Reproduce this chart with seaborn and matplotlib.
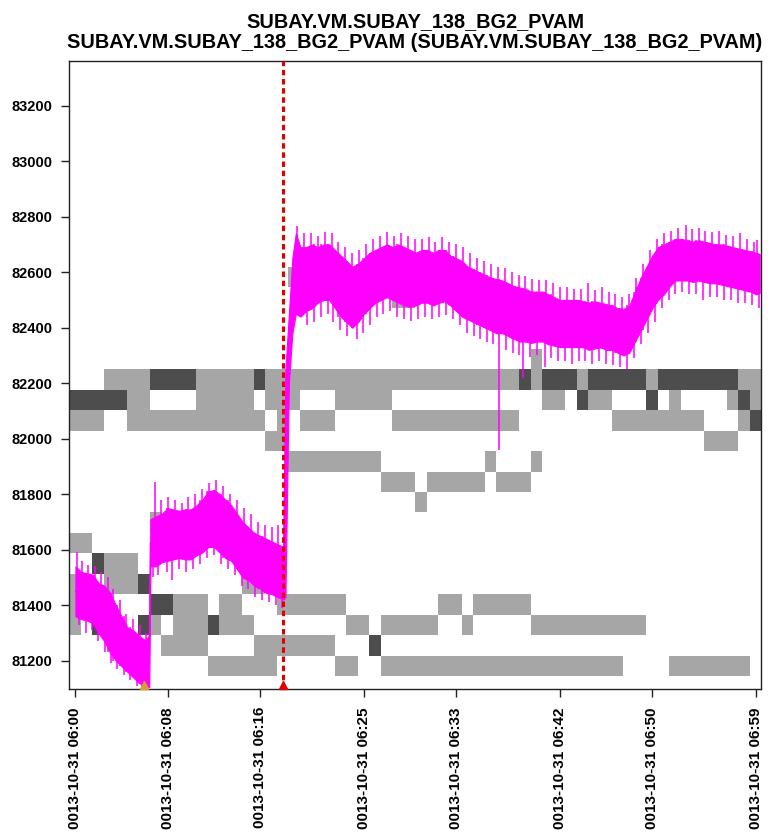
import numpy as np
import pandas as pd
import matplotlib
matplotlib.use("Agg")
import matplotlib.pyplot as plt
from matplotlib.colors import ListedColormap
import seaborn as sns

TITLE = ("SUBAY.VM.SUBAY_138_BG2_PVAM\n"
         "SUBAY.VM.SUBAY_138_BG2_PVAM (SUBAY.VM.SUBAY_138_BG2_PVAM)")

# x axis is minutes after 06:00
tick_min = [0, 8, 16, 25, 33, 42, 50, 59]
tick_labels = ["0013-10-31 06:00", "0013-10-31 06:08", "0013-10-31 06:16",
               "0013-10-31 06:25", "0013-10-31 06:33", "0013-10-31 06:42",
               "0013-10-31 06:50", "0013-10-31 06:59"]
y_ticks = [81200, 81400, 81600, 81800, 82000, 82200, 82400, 82600, 82800, 83000, 83200]

# --- magenta signal, read as a low/high envelope ---
band_t = [0.0, 0.5, 1.0, 1.5, 2.0, 2.5, 3.0, 3.5, 4.0, 4.5, 5.0, 5.5, 6.0, 6.4,
          6.5, 7.0, 7.5, 8.0, 8.5, 9.0, 9.5, 10.0, 10.5, 11.0, 11.5, 12.0, 12.5,
          13.0, 13.5, 14.0, 14.5, 15.0, 15.5, 16.0, 16.5, 17.0, 17.5, 18.0,
          18.2, 18.5, 18.8, 19.1, 19.5,
          20.0, 20.5, 21.0, 21.5, 22.0, 22.5, 23.0, 23.5, 24.0, 24.5, 25.0, 25.5,
          26.0, 26.5, 27.0, 27.5, 28.0, 28.5, 29.0, 29.5, 30.0, 30.5, 31.0, 31.5,
          32.0, 32.5, 33.0, 33.5, 34.0, 34.5, 35.0, 35.5, 36.0, 36.5, 37.0, 37.5,
          38.0, 38.5, 39.0, 39.5, 40.0, 40.5, 41.0, 41.5, 42.0, 42.5, 43.0, 43.5,
          44.0, 44.5, 45.0, 45.5, 46.0, 46.5, 47.0, 47.5, 48.0, 48.5, 49.0, 49.5,
          50.0, 50.5, 51.0, 51.5, 52.0, 52.5, 53.0, 53.5, 54.0, 54.5, 55.0, 55.5,
          56.0, 56.5, 57.0, 57.5, 58.0, 58.5, 59.0, 59.3]
band_lo = [81360, 81350, 81345, 81335, 81300, 81270, 81230, 81200, 81180, 81160, 81140, 81120, 81110, 81105,
           81540, 81540, 81555, 81560, 81565, 81570, 81565, 81565, 81580, 81590, 81610, 81610, 81590,
           81570, 81560, 81530, 81500, 81490, 81470, 81460, 81445, 81440, 81430, 81420,
           81430, 82200, 82380, 82450, 82440,
           82460, 82470, 82490, 82500, 82500, 82470, 82440, 82420, 82400, 82420, 82450, 82470,
           82490, 82500, 82510, 82500, 82490, 82480, 82475, 82480, 82490, 82490, 82480, 82490,
           82495, 82480, 82460, 82440, 82430, 82420, 82410, 82400, 82390, 82380, 82380, 82370,
           82360, 82350, 82350, 82345, 82350, 82350, 82340, 82335, 82330, 82330, 82330, 82330,
           82330, 82320, 82325, 82330, 82320, 82320, 82310, 82300, 82310, 82350, 82390, 82430,
           82470, 82500, 82520, 82550, 82570, 82570, 82570, 82565, 82570, 82565, 82560, 82560,
           82555, 82550, 82545, 82540, 82535, 82530, 82520, 82525]
band_hi = [81540, 81520, 81515, 81510, 81480, 81470, 81445, 81400, 81360, 81320, 81310, 81290, 81275, 81290,
           81710, 81720, 81730, 81750, 81745, 81740, 81745, 81745, 81760, 81780, 81810, 81815, 81800,
           81780, 81760, 81730, 81700, 81680, 81660, 81650, 81640, 81630, 81620, 81610,
           82250, 82450, 82650, 82740, 82690,
           82690, 82700, 82690, 82700, 82700, 82680, 82660, 82640, 82620, 82630, 82650, 82670,
           82680, 82690, 82700, 82690, 82700, 82690, 82680, 82670, 82680, 82680, 82670, 82680,
           82680, 82660, 82650, 82640, 82620, 82610, 82600, 82590, 82580, 82575, 82570, 82560,
           82550, 82545, 82540, 82530, 82530, 82530, 82520, 82510, 82500, 82500, 82500, 82500,
           82495, 82490, 82495, 82490, 82485, 82480, 82470, 82465, 82480, 82530, 82580, 82620,
           82660, 82690, 82700, 82710, 82720, 82720, 82715, 82710, 82715, 82710, 82705, 82700,
           82700, 82695, 82690, 82685, 82680, 82675, 82670, 82665]

# noise spikes above the band (time, tip value)
up_t = [0.1, 0.6, 1.1, 1.7, 2.2, 2.8, 3.3, 3.9, 4.4, 5.0, 5.6, 6.1,
        6.9, 7.4, 8.0, 8.6, 9.2, 9.8, 10.4, 11.0, 11.6, 12.2, 12.8, 13.4, 14.0, 14.6,
        15.2, 15.8, 16.4, 17.0, 17.6,
        19.2, 19.8, 20.4, 21.0, 21.6, 22.2, 22.8, 23.4, 24.0, 24.6, 25.2, 25.8, 26.4,
        27.0, 27.6, 28.2, 28.8, 29.4, 30.0, 30.6, 31.2, 31.8, 32.4, 33.0, 33.6, 34.2,
        34.8, 35.4, 36.0, 36.6, 37.2, 37.8, 38.4, 39.0, 39.6, 40.2, 40.8, 41.4, 42.0,
        42.6, 43.2, 43.8, 44.4, 45.0, 45.6, 46.2, 46.8, 47.4, 48.0, 48.6, 49.2, 49.8,
        50.4, 51.0, 51.6, 52.2, 52.9, 53.4, 54.0, 54.6, 55.2, 55.8, 56.4, 57.0, 57.6,
        58.2, 58.8, 59.1]
up_v = [81590, 81560, 81545, 81540, 81520, 81500, 81460, 81420, 81370, 81350, 81330, 81300,
        81845, 81780, 81790, 81780, 81770, 81790, 81800, 81820, 81840, 81850, 81830, 81800, 81780, 81750,
        81730, 81700, 81690, 81680, 81690,
        82765, 82740, 82740, 82730, 82745, 82740, 82710, 82690, 82670, 82680, 82700, 82720, 82730,
        82745, 82730, 82740, 82730, 82720, 82720, 82725, 82710, 82725, 82710, 82700, 82690, 82670,
        82650, 82640, 82630, 82620, 82615, 82600, 82590, 82585, 82575, 82570, 82570, 82560, 82545,
        82545, 82540, 82540, 82560, 82535, 82545, 82530, 82520, 82510, 82520, 82580, 82630, 82680,
        82720, 82740, 82750, 82760, 82770, 82755, 82760, 82750, 82745, 82750, 82735, 82730, 82740,
        82720, 82710, 82716]
# noise spikes below the band (time, tip value)
dn_t = [0.3, 0.9, 1.4, 2.0, 2.6, 3.1, 3.6, 4.2, 4.7, 5.3, 5.8,
        6.7, 7.2, 7.9, 8.4, 9.0, 9.6, 10.2, 10.8, 11.4, 12.0, 12.6, 13.2, 13.8, 14.4,
        15.0, 15.6, 16.2, 16.8, 17.4, 17.9,
        20.1, 20.7, 21.3, 21.9, 22.3, 22.9, 23.5, 24.4, 24.9, 25.5, 26.1, 26.7, 27.3,
        27.9, 28.5, 29.1, 29.7, 30.3, 30.9, 31.5, 32.1, 32.7, 33.3, 33.9, 34.5, 35.1,
        35.7, 36.2, 36.7, 37.3, 37.9, 38.4, 38.8, 39.4, 40.0, 40.7, 41.2, 41.8, 42.4,
        43.0, 43.6, 44.2, 44.8, 45.4, 46.0, 46.6, 47.2, 47.8, 48.4, 49.0, 49.6, 50.2,
        50.8, 51.4, 52.0, 52.6, 53.2, 53.8, 54.4, 55.0, 55.6, 56.2, 56.8, 57.4, 58.0,
        58.6, 59.2]
dn_v = [81330, 81300, 81310, 81270, 81230, 81190, 81170, 81150, 81130, 81110, 81105,
        81500, 81510, 81520, 81490, 81530, 81520, 81530, 81550, 81570, 81580, 81550, 81530, 81510, 81470,
        81460, 81430, 81420, 81410, 81400, 81390,
        82410, 82420, 82440, 82450, 82420, 82390, 82370, 82360, 82380, 82410, 82440, 82450, 82460,
        82440, 82430, 82425, 82430, 82440, 82430, 82440, 82445, 82430, 82410, 82380, 82370, 82360,
        82350, 82340, 81960, 82320, 82310, 82300, 82220, 82295, 82300, 82260, 82290, 82280, 82280,
        82270, 82280, 82280, 82270, 82280, 82270, 82265, 82260, 82250, 82290, 82340, 82380, 82420,
        82470, 82500, 82520, 82530, 82520, 82520, 82500, 82510, 82510, 82500, 82500, 82490, 82490,
        82480, 82470]

event_t = 18.0     # red dashed line / red triangle
marker_t = 5.95    # orange triangle

# --- gray background cells: one-minute columns, rows of 73.7 units ---
cell_x0 = -0.54
cell_y0 = 81071
cell_h = 73.7
n_cols, n_rows = 60, 22
# row index -> runs of (first col, last col, shade) ; l = light, d = dark
cell_runs = {
    21: [(51, 51, "l")],
    20: [(19, 19, "l"), (27, 27, "l"), (50, 50, "l")],
    19: [(24, 24, "l"), (28, 29, "l"), (35, 35, "l"), (38, 38, "l"), (49, 49, "l")],
    18: [(38, 48, "l")],
    17: [(46, 47, "l")],
    16: [(40, 40, "l")],
    15: [(3, 6, "l"), (7, 10, "d"), (11, 15, "l"), (16, 16, "d"), (17, 38, "l"), (39, 39, "d"),
         (40, 40, "l"), (41, 43, "d"), (44, 44, "l"), (45, 49, "d"), (50, 50, "l"), (51, 57, "d"),
         (58, 59, "l")],
    14: [(0, 4, "d"), (5, 6, "l"), (11, 15, "l"), (17, 19, "l"), (23, 27, "l"), (41, 42, "l"),
         (44, 44, "d"), (45, 46, "l"), (50, 50, "d"), (52, 52, "l"), (57, 57, "l"), (58, 58, "d"),
         (59, 59, "l")],
    13: [(0, 2, "l"), (5, 16, "l"), (18, 18, "l"), (20, 22, "l"), (28, 38, "l"), (47, 54, "l"),
         (58, 58, "l"), (59, 59, "d")],
    12: [(17, 18, "l"), (55, 57, "l")],
    11: [(19, 26, "l"), (36, 36, "l"), (40, 40, "l")],
    10: [(27, 29, "l"), (31, 35, "l"), (37, 39, "l")],
    9: [(30, 30, "l")],
    8: [(7, 7, "l")],
    7: [(0, 1, "l")],
    6: [(2, 2, "d"), (3, 5, "l")],
    5: [(0, 0, "l"), (3, 5, "l"), (6, 6, "d"), (15, 16, "l")],
    4: [(0, 0, "l"), (7, 8, "d"), (9, 11, "l"), (13, 14, "l"), (18, 23, "l"), (32, 33, "l"),
        (35, 39, "l")],
    3: [(0, 0, "l"), (2, 2, "d"), (6, 6, "d"), (7, 7, "l"), (9, 11, "l"), (12, 12, "d"),
        (13, 15, "l"), (24, 25, "l"), (27, 31, "l"), (34, 34, "l"), (40, 49, "l")],
    2: [(8, 11, "l"), (16, 22, "l"), (26, 26, "d")],
    1: [(12, 17, "l"), (23, 24, "l"), (27, 47, "l"), (52, 58, "l")],
}

LIGHT = "#A6A6A6"
DARK = "#4D4D4D"
MAGENTA = "#FF00FF"
RED = "#E00000"
ORANGE = "#D9A030"

sns.set_theme(style="white")
plt.rcParams["font.family"] = ["Liberation Sans", "DejaVu Sans"]
plt.rcParams["font.weight"] = "bold"
plt.rcParams["text.color"] = "black"
plt.rcParams["xtick.labelcolor"] = "black"
plt.rcParams["ytick.labelcolor"] = "black"

fig = plt.figure(figsize=(7.78, 8.33), dpi=100)
ax = fig.add_axes([69.3 / 778, 1 - 689 / 833, (760.7 - 69.3) / 778, (689 - 60.7) / 833])

# grid of cells
grid = np.full((n_rows, n_cols), np.nan)
for r, runs in cell_runs.items():
    for c0, c1, shade in runs:
        grid[r, c0:c1 + 1] = 1 if shade == "l" else 2
x_edges = cell_x0 + np.arange(n_cols + 1)
y_edges = cell_y0 + cell_h * np.arange(n_rows + 1)
ax.pcolormesh(x_edges, y_edges, np.ma.masked_invalid(grid),
              cmap=ListedColormap([LIGHT, DARK]), vmin=0.5, vmax=2.5,
              shading="flat", zorder=1)

# signal band (min/max of the envelope points at each time)
df = pd.DataFrame({"t": band_t + band_t, "v": band_lo + band_hi})
sns.lineplot(data=df, x="t", y="v", estimator="mean",
             errorbar=lambda s: (s.min(), s.max()),
             color=MAGENTA, linewidth=1.0,
             err_kws={"alpha": 1, "linewidth": 0.8, "edgecolor": MAGENTA},
             ax=ax, zorder=3)

# spikes start inside the band at the nearest envelope sample
bt = np.array(band_t)
up_base = [band_lo[int(np.abs(bt - t).argmin())] for t in up_t]
dn_base = [band_hi[int(np.abs(bt - t).argmin())] for t in dn_t]
ax.vlines(up_t, up_base, up_v, color=MAGENTA, linewidth=1.1, zorder=3)
ax.vlines(dn_t, dn_base, dn_v, color=MAGENTA, linewidth=1.1, zorder=3)

ax.axvline(event_t, color=RED, linestyle=(0, (1.8, 1.2)), linewidth=2.2, zorder=4)
xt = ax.get_xaxis_transform()
ax.plot([event_t], [0.007], marker="^", color=RED, markersize=6,
        transform=xt, clip_on=False, zorder=5)
ax.plot([marker_t], [0.007], marker="^", color=ORANGE, markersize=6,
        transform=xt, clip_on=False, zorder=5)

ax.set_xlim(-0.53, 59.39)
ax.set_ylim(81098, 83362)
ax.set_xticks(tick_min)
ax.set_xticklabels(tick_labels, rotation=90, fontsize=11, fontweight="bold")
ax.set_yticks(y_ticks)
ax.set_yticklabels([str(v) for v in y_ticks], fontsize=10.5, fontweight="bold")
ax.tick_params(axis="both", direction="out", length=6, width=1, color="#222222",
               bottom=True, left=True)
ax.tick_params(axis="x", pad=7)
ax.tick_params(axis="y", pad=6)
ax.set_xlabel("")
ax.set_ylabel("")
for sp in ax.spines.values():
    sp.set_color("#222222")
    sp.set_linewidth(1)
ax.set_facecolor("white")
ax.set_title(TITLE, fontsize=14.3, fontweight="bold", linespacing=1.12, pad=9)

fig.savefig("out.png", dpi=100, facecolor="white")
